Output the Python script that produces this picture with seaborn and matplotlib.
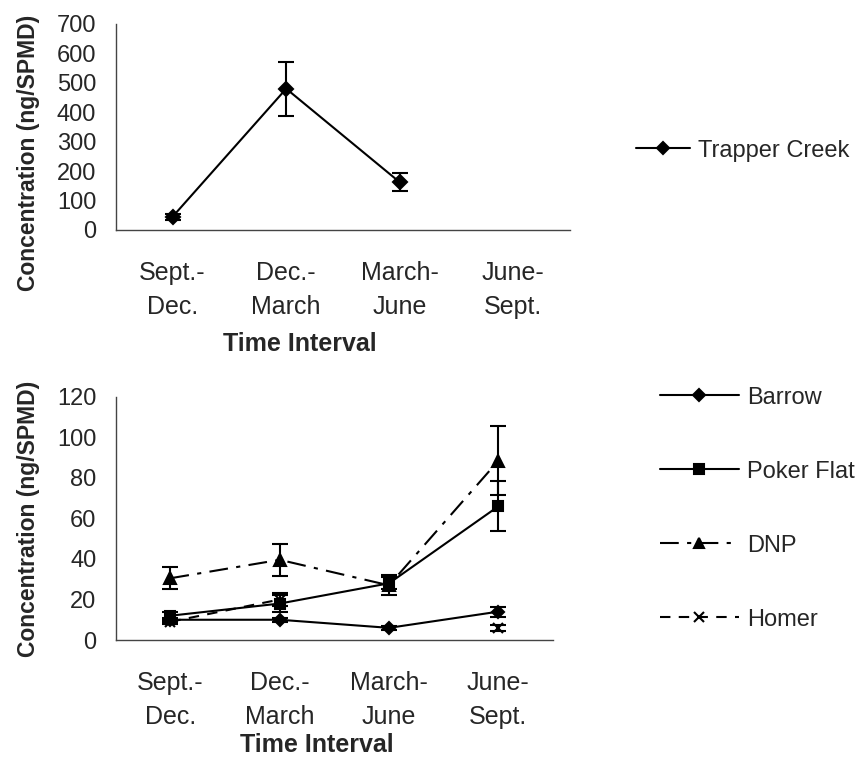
import numpy as np
import pandas as pd
import seaborn as sns
import matplotlib.pyplot as plt
from matplotlib.lines import Line2D

# Sampling intervals (x categories)
intervals = ["Sept.-\nDec.", "Dec.-\nMarch", "March-\nJune", "June-\nSept."]

# Upper panel: Trapper Creek
trapper_creek = [45, 480, 162, np.nan]
trapper_creek_err = [10, 92, 31, np.nan]

# Lower panel: other sites
barrow = [10, 10, 6, 14]
barrow_err = [1, 1, 1, 2.5]
poker_flat = [12, 18, 28, 66]
poker_flat_err = [2, 4, 3, 12.3]
dnp = [30.5, 39.6, 27, 88.5]
dnp_err = [5.4, 7.8, 5, 17]
homer = [9, 20, np.nan, 6]
homer_err = [1, 3, np.nan, 1.5]

sns.set_theme(style="white")
plt.rcParams["font.family"] = ["Liberation Sans", "DejaVu Sans"]

INK = "black"
AXIS = "#444444"
STYLE = {
    "Trapper Creek": dict(marker="D", ms=7.5, lms=6.5, ls="-"),
    "Barrow": dict(marker="D", ms=6.5, lms=6, ls="-"),
    "Poker Flat": dict(marker="s", ms=7.5, lms=6.5, ls="-"),
    "DNP": dict(marker="^", ms=8.5, lms=7.5, ls=(0, (9, 4, 2, 4))),
    "Homer": dict(marker="x", ms=7, lms=7, ls=(0, (5, 4))),
}


def long_form(series):
    """Build a tidy frame; each unbroken run of values gets its own unit id."""
    rows = []
    for site, (vals, errs) in series.items():
        seg = 0
        for i, (v, e) in enumerate(zip(vals, errs)):
            if np.isnan(v):
                seg += 1
                continue
            rows.append(dict(site=site, x=i, y=v, err=e, unit=f"{site}-{seg}"))
    return pd.DataFrame(rows)


def draw_panel(ax, df, order, ymax, ystep):
    for site in order:
        d = df[df.site == site]
        st = STYLE[site]
        sns.lineplot(
            data=d, x="x", y="y", units="unit", estimator=None,
            color=INK, lw=1.5, marker=st["marker"], markersize=st["ms"],
            markeredgecolor=INK, mew=1.5, linestyle=st["ls"],
            legend=False, ax=ax,
        )
        ax.errorbar(d.x, d.y, yerr=d.err, fmt="none", ecolor=INK,
                    elinewidth=1.5, capsize=5.5, capthick=1.5, zorder=3)
    ax.set_xlim(-0.5, 3.5)
    ax.set_ylim(0, ymax)
    ax.set_yticks(np.arange(0, ymax + 1, ystep))
    ax.set_xticks([0.5, 1.5, 2.5])
    ax.set_xticklabels([])
    ax.set_xticks(range(4), minor=True)
    ax.set_xticklabels(intervals, minor=True, fontsize=18, linespacing=1.55)
    ax.tick_params(axis="x", which="major", direction="in", length=5,
                   width=1, color=AXIS)
    ax.tick_params(axis="x", which="minor", length=0, pad=22)
    ax.tick_params(axis="y", direction="in", length=5, width=1,
                   color=AXIS, labelsize=17, pad=14)
    for side in ("top", "right"):
        ax.spines[side].set_visible(False)
    for side in ("left", "bottom"):
        ax.spines[side].set_color(AXIS)
        ax.spines[side].set_linewidth(1)
    ax.set_xlabel("")
    ax.set_ylabel("")


def legend_handle(site):
    st = STYLE[site]
    return Line2D([], [], color=INK, lw=1.5, ls=st["ls"], marker=st["marker"],
                  ms=st["lms"], mec=INK, mew=1.5)


fig = plt.figure(figsize=(8.64, 7.63), dpi=100)
ax_top = fig.add_axes([0.134, 0.6986, 0.526, 0.270])
ax_bot = fig.add_axes([0.134, 0.1612, 0.506, 0.3185])

top_df = long_form({"Trapper Creek": (trapper_creek, trapper_creek_err)})
draw_panel(ax_top, top_df, ["Trapper Creek"], 700, 100)

bot_order = ["Barrow", "Poker Flat", "DNP", "Homer"]
bot_df = long_form({
    "Barrow": (barrow, barrow_err),
    "Poker Flat": (poker_flat, poker_flat_err),
    "DNP": (dnp, dnp_err),
    "Homer": (homer, homer_err),
})
draw_panel(ax_bot, bot_df, bot_order, 120, 20)

ylab_kw = dict(fontsize=16.5, fontweight="bold", rotation=90,
               ha="center", va="center")
fig.text(0.033, 0.80, "Concentration (ng/SPMD)", **ylab_kw)
fig.text(0.033, 0.32, "Concentration (ng/SPMD)", **ylab_kw)
xlab_kw = dict(fontsize=18, fontweight="bold", ha="center", va="center")
fig.text(0.347, 0.549, "Time Interval", **xlab_kw)
fig.text(0.367, 0.024, "Time Interval", **xlab_kw)

leg_kw = dict(frameon=False, fontsize=17, handletextpad=0.35, loc="upper left")
fig.legend([legend_handle("Trapper Creek")], ["Trapper Creek"],
           bbox_to_anchor=(0.711, 0.845), handlelength=2.3, **leg_kw)
fig.legend([legend_handle(s) for s in bot_order], bot_order,
           bbox_to_anchor=(0.739, 0.521), handlelength=3.35,
           labelspacing=2.2, **leg_kw)

fig.savefig("out.png", dpi=100)
